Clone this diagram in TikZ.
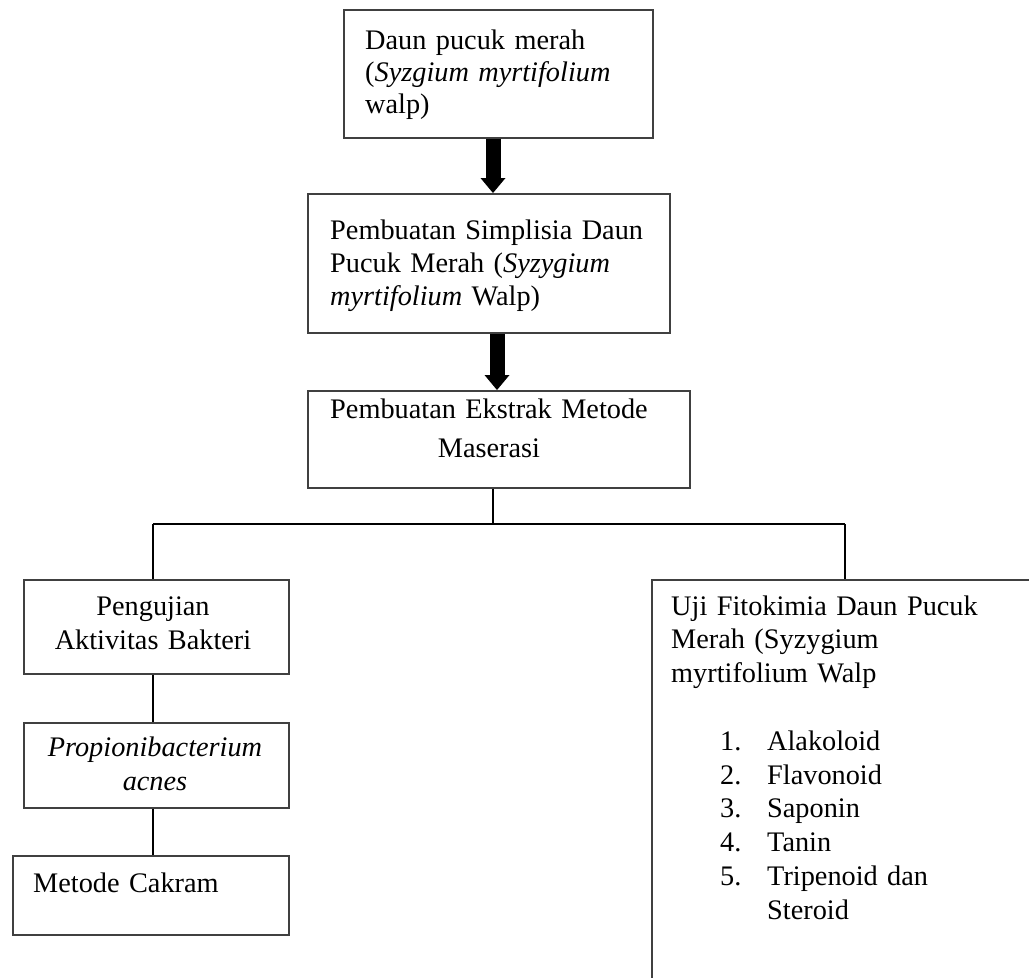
\documentclass[tikz,border=0pt]{standalone}
\usepackage{fontspec}
\setmainfont{Liberation Serif}
\usetikzlibrary{arrows.meta}
\begin{document}
\begin{tikzpicture}[x=1pt,y=-1pt,
  box/.style={draw=black!75, line width=1.5pt, inner sep=0pt, anchor=north west},
  lbl/.style={inner sep=0pt, text width=340pt},
  link/.style={draw=black, line width=1.5pt},
  fat/.style={draw=black, line width=15pt, -{Triangle[width=25pt,length=15pt,line width=0pt]}}]
\useasboundingbox (0,0) rectangle (1029,978);
% boxes
\node[box, minimum width=309pt, minimum height=128pt] (b1) at (343,9) {};
\node[box, minimum width=362pt, minimum height=139pt] (b2) at (307,193) {};
\node[box, minimum width=382pt, minimum height=97pt] (b3) at (307,390) {};
\node[box, minimum width=265pt, minimum height=94pt] (pb) at (23,579) {};
\node[box, minimum width=265pt, minimum height=85pt] (pa) at (23,722) {};
\node[box, minimum width=276pt, minimum height=79pt] (mc) at (12,855) {};
\begin{scope}
\clip (0,0) rectangle (1029,978);
\node[box, minimum width=500pt, minimum height=500pt] (rbox) at (651,579) {};
\end{scope}
% texts
\node[lbl, anchor=base west, align=left, font=\fontsize{28.3}{32}\selectfont] (t1) at (365,49)
  {Daun pucuk merah\\(\textit{Syzgium myrtifolium}\\walp)};
\node[lbl, anchor=base west, align=left, font=\fontsize{28.3}{33}\selectfont] (t2) at (330,239)
  {Pembuatan Simplisia Daun\\Pucuk Merah (\textit{Syzygium}\\\textit{myrtifolium} Walp)};
\node[lbl, anchor=base, align=center, font=\fontsize{28.3}{39}\selectfont] (t3) at (489,418)
  {Pembuatan Ekstrak Metode\\Maserasi};
\node[lbl, anchor=base, align=center, text width=260pt, font=\fontsize{28.3}{34}\selectfont] (tp) at (153,615)
  {Pengujian\\Aktivitas Bakteri};
\node[lbl, anchor=base, align=center, text width=260pt, font=\fontsize{28.3}{34}\selectfont] (ta) at (155,756)
  {\textit{Propionibacterium}\\\textit{acnes}};
\node[lbl, anchor=base west, align=left, text width=250pt, font=\fontsize{28.3}{34}\selectfont] (tm) at (33,892)
  {Metode Cakram};
\node[lbl, anchor=base west, align=left, font=\fontsize{28.3}{33.8}\selectfont] (tr) at (671,615)
  {Uji Fitokimia Daun Pucuk\\Merah (Syzygium\\myrtifolium Walp\\[33.8pt]
   \hspace*{49pt}\makebox[47pt][l]{1.}Alakoloid\\
   \hspace*{49pt}\makebox[47pt][l]{2.}Flavonoid\\
   \hspace*{49pt}\makebox[47pt][l]{3.}Saponin\\
   \hspace*{49pt}\makebox[47pt][l]{4.}Tanin\\
   \hspace*{49pt}\makebox[47pt][l]{5.}Tripenoid dan\\
   \hspace*{96pt}Steroid};
% connectors
\coordinate (a1) at (493,0);
\coordinate (a2) at (497,0);
\draw[fat] (a1 |- b1.south) -- (a1 |- b2.north);
\draw[fat] (a2 |- b2.south) -- (a2 |- b3.north);
\coordinate (split) at (493,524);
\coordinate (hl) at (153,524);
\coordinate (hr) at (845,524);
\draw[link] (split |- b3.south) -- (split);
\draw[link] (hl) -- (hr);
\draw[link] (hl) -- (hl |- pb.north);
\draw[link] (hr) -- (hr |- rbox.north);
\draw[link] (hl |- pb.south) -- (hl |- pa.north);
\draw[link] (hl |- pa.south) -- (hl |- mc.north);
\end{tikzpicture}
\end{document}
